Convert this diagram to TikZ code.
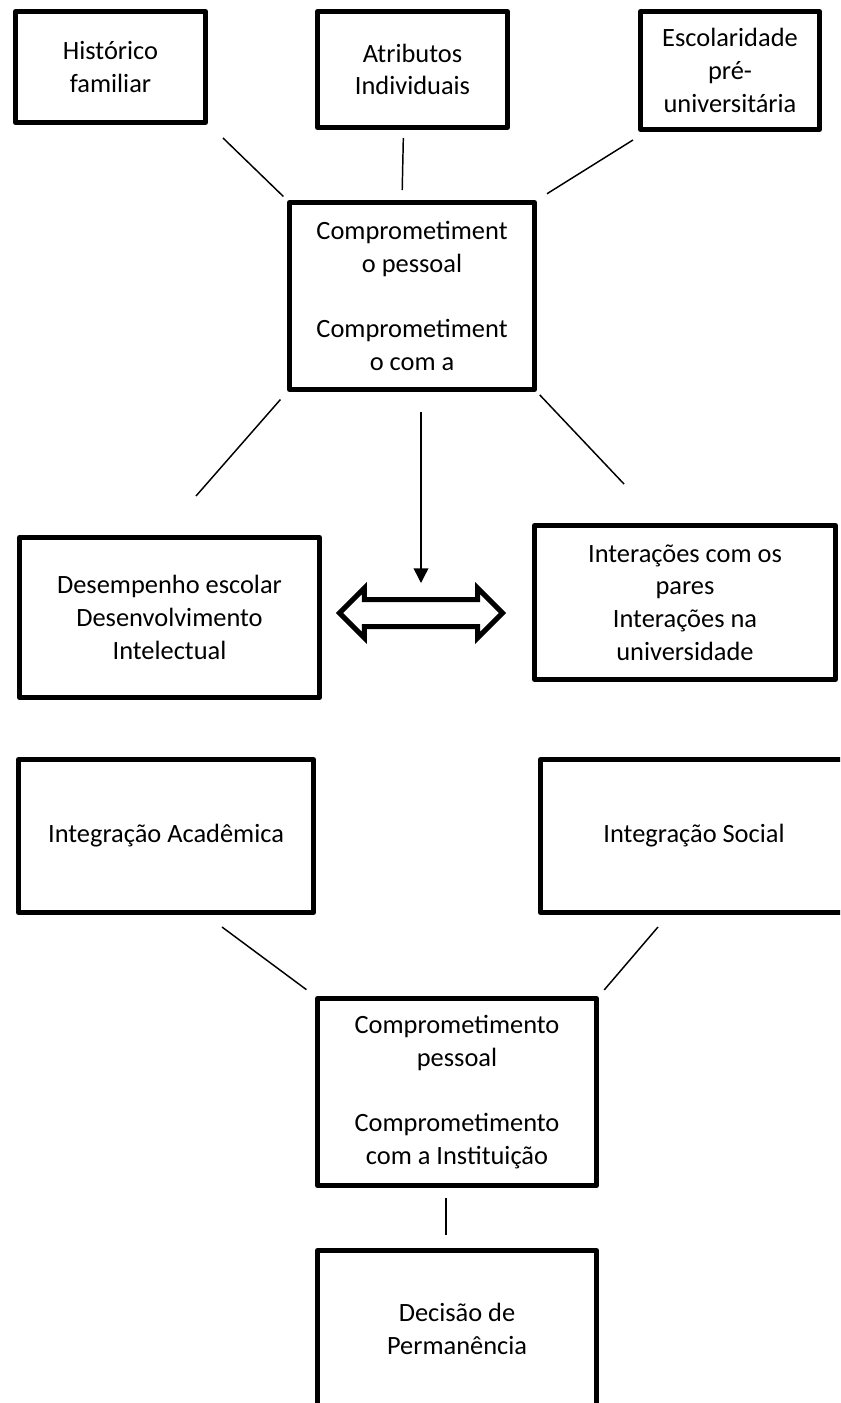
\documentclass[tikz,border=0pt]{standalone}
\usepackage{fontspec}
\setmainfont{Carlito}
\usepackage{tikz}
\usetikzlibrary{shapes.arrows,arrows.meta,positioning,calc}
\newcommand{\boxfont}{\fontsize{19.8pt}{24.5pt}\selectfont}

\begin{document}
\begin{tikzpicture}[x=0.75pt, y=-0.75pt,
    box/.style={draw, line width=3.75pt, line join=round, align=center, inner sep=0pt, font=\boxfont},
    link/.style={line width=1.1pt},
    flow/.style={line width=1.1pt, -{Triangle[length=11pt,width=11pt]}}]
    \useasboundingbox (0,0) rectangle (840,1403);
    \clip (0,0) rectangle (840,1403);

    % Background factors
    \node[box, minimum width=142.5pt, minimum height=83.25pt] (hist) at (110.5,67) {Histórico\\familiar};
    \node[box, minimum width=142.5pt, minimum height=87pt] (attr) at (412.5,69.5) {Atributos\\Individuais};
    \node[box, minimum width=134.25pt, minimum height=88.5pt] (escol) at (730,70.5) {Escolaridade\\pré-\\universitária};

    % Initial commitment
    \node[box, minimum width=183.75pt, minimum height=140.25pt] (comp1) at (412,296)
        {Comprometiment\\o pessoal\\[24.5pt]Comprometiment\\o com a};

    % Academic and social systems
    \node[box, minimum width=225pt, minimum height=120pt] (desemp) at (169.5,617.5)
        {Desempenho escolar\\Desenvolvimento\\Intelectual};
    \node[box, minimum width=225.75pt, minimum height=115.5pt] (inter) at (685,602.5)
        {Interações com os\\pares\\Interações na\\universidade};
    \node[draw, double arrow, line width=3.75pt, inner sep=8.25pt, minimum height=122.25pt,
        double arrow head extend=8.6pt] (both) at (421,613) {};

    % Integration
    \node[box, minimum width=221.25pt, minimum height=114.75pt] (integA) at (166,836) {Integração Acadêmica};
    \node[box, minimum width=230.25pt, minimum height=114.75pt] (integS) at (694,836) {Integração Social};

    % Later commitment and outcome
    \node[box, minimum width=209.25pt, minimum height=140.25pt] (comp2) at (457,1092)
        {Comprometimento\\pessoal\\[24.5pt]Comprometimento\\com a Instituição};
    \node[box, minimum width=209.25pt, minimum height=117.75pt] (decis) at (457,1329)
        {Decisão de\\Permanência};

    % Loose line ends
    \coordinate (histEnd) at (223,138);
    \coordinate (escolEnd) at (633,140);
    \coordinate (desEnd) at (196,496);
    \coordinate (intEnd) at (624,484);
    \coordinate (acadEnd) at (222,927);
    \coordinate (socEnd) at (658,927);

    % Connectors
    \draw[link, shorten <=3.75pt] (comp1.north west) -- (histEnd);
    \draw[link, shorten <=6pt, shorten >=7.5pt] ($(attr.south)+(-9,0)$) -- ($(comp1.north)+(-10,0)$);
    \draw[link, shorten <=8.8pt] (comp1.north east) -- (escolEnd);
    \draw[link, shorten <=7.5pt] (comp1.south west) -- (desEnd);
    \draw[link, shorten <=3pt] (comp1.south east) -- (intEnd);
    \draw[flow, shorten <=15pt] ($(comp1.south)+(9,0)$) -- ($(both.center)+(0,-30)$);
    \draw[link, shorten <=8pt] (comp2.north west) -- (acadEnd);
    \draw[link, shorten <=6pt] (comp2.north east) -- (socEnd);
    \draw[link, shorten <=7.5pt, shorten >=9.75pt] ($(comp2.south)+(-11,0)$) -- ($(decis.north)+(-11,0)$);
\end{tikzpicture}
\end{document}
